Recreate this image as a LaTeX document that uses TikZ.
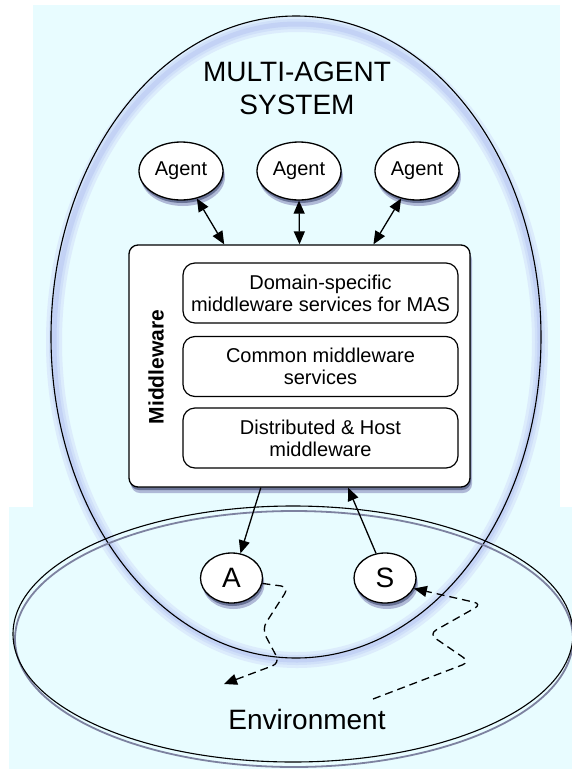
\documentclass[tikz,border=0pt]{standalone}
\usepackage{fontspec}
\setmainfont{Liberation Sans}
\usetikzlibrary{shapes.geometric,arrows.meta,shadows,calc}
\definecolor{skycyan}{RGB}{232,252,255}
\definecolor{halofar}{RGB}{220,236,252}
\definecolor{halomid}{RGB}{208,224,249}
\definecolor{halonear}{RGB}{195,210,245}
\definecolor{rimgray}{RGB}{125,130,160}
\definecolor{shadelight}{RGB}{175,185,215}
\definecolor{shadedark}{RGB}{105,115,150}

\begin{document}
\begin{tikzpicture}[x=1pt, y=-1pt,
        every node/.style={font=\fontsize{20}{22}\selectfont},
        bigtext/.style={font=\fontsize{28}{33}\selectfont},
        castshadow/.style={drop shadow={shadow xshift=2pt, shadow yshift=-6pt, opacity=1, fill=shadelight},
            drop shadow={shadow xshift=1pt, shadow yshift=-3pt, opacity=1, fill=shadedark}},
        agent/.style={ellipse, draw, line width=1.3pt, fill=white, castshadow, inner sep=0pt, minimum width=84pt, minimum height=58pt},
        port/.style={ellipse, draw, line width=1.3pt, fill=white, castshadow, inner sep=0pt, minimum width=62pt, minimum height=50pt, bigtext},
        layer/.style={rectangle, rounded corners=12pt, draw, line width=1.2pt, fill=white, minimum width=275pt, minimum height=60pt, align=center},
        link/.style={line width=1.3pt, {Triangle[length=13pt,width=11pt]}-{Triangle[length=13pt,width=11pt]}},
        feed/.style={line width=1.3pt, -{Triangle[length=13pt,width=11pt]}},
        wave/.style={line width=1.3pt, dash pattern=on 8pt off 5pt, rounded corners=8pt, -{Triangle[length=13pt,width=11pt]}}]
        \useasboundingbox (0,0) rectangle (572,769);
        \fill[skycyan] (33,5) rectangle (560,507);
        \fill[skycyan] (9,507) rectangle (572,769);

        \foreach \w/\c in {16/halofar, 10/halomid, 5/halonear}
            \draw[\c, line width=\w pt] (297,342) ellipse [x radius=243, y radius=318];
        \draw[line width=1.1pt] (296,337) ellipse [x radius=245, y radius=321];

        \draw[rimgray, line width=1.8pt] (294,639) ellipse [x radius=279, y radius=128];
        \draw[line width=1.1pt] (293,634) ellipse [x radius=280, y radius=128];

        \node[bigtext, align=center] (title) at (297,88) {MULTI-AGENT\\SYSTEM};

        \node[agent] (ag1) at (181,171) {Agent};
        \node[agent] (ag2) at (299,171) {Agent};
        \node[agent] (ag3) at (417,171) {Agent};

        \node[draw, fill=white, castshadow, rounded corners=9pt, line width=1.3pt, minimum width=341pt, minimum height=242pt] (mw) at (299.5,366) {};
        \node[layer] (dom) at (320.5,293) {Domain-specific\\middleware services for MAS};
        \node[layer] (com) at (320.5,366.5) {Common middleware\\services};
        \node[layer] (dist) at (320.5,438) {Distributed \& Host\\middleware};
        \node[rotate=90, font=\bfseries\fontsize{21}{23}\selectfont] (mwlabel) at (156,367) {Middleware};

        \node[port] (act) at (231.5,578) {A};
        \node[port] (sen) at (385,578) {S};

        \draw[link] (ag1.-60) -- ($(mw.north west)!0.28!(mw.north east)$);
        \draw[link] (ag2.south) -- (mw.north);
        \draw[link] (ag3.-120) -- ($(mw.north west)!0.716!(mw.north east)$);
        \draw[feed] ($(mw.south west)!0.387!(mw.south east)$) -- (act.70);
        \draw[feed] (sen.110) -- ($(mw.south west)!0.642!(mw.south east)$);

        \coordinate (actout) at (224,684);
        \coordinate (sensin) at (373,699);
        \draw[wave] (act.-10) -- (289,587) -- (262,629) -- (280,663) -- (actout);
        \draw[wave] (sensin) -- (470,662) -- (429,634) -- (482,604) -- (sen.-20);

        \node[bigtext] (env) at (307,719) {Environment};
    \end{tikzpicture}
\end{document}
